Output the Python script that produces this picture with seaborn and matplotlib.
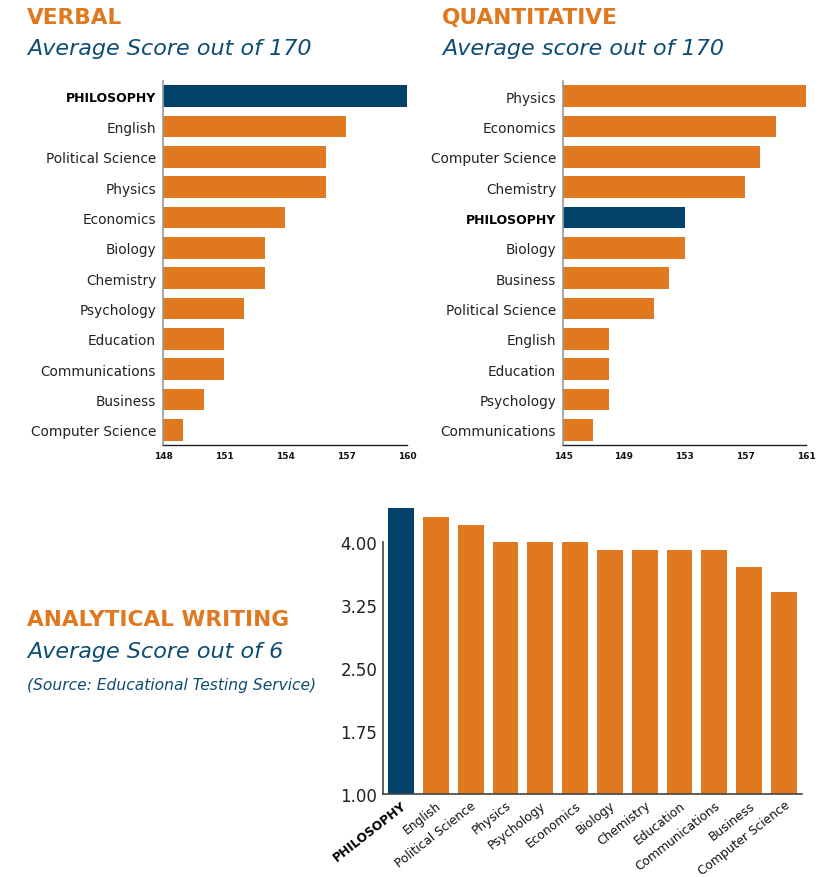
import matplotlib
matplotlib.use("Agg")
import matplotlib.pyplot as plt
import seaborn as sns
import pandas as pd
from matplotlib.ticker import FixedLocator

sns.set_theme(style="white")
plt.rcParams['font.family'] = ['DejaVu Sans']

ORANGE = "#DF781E"
BLUE = "#02426B"
TITLE_BLUE = "#0E4C72"

verbal_cats = ["PHILOSOPHY", "English", "Political Science", "Physics", "Economics", "Biology",
               "Chemistry", "Psychology", "Education", "Communications", "Business", "Computer Science"]
verbal_vals = [160, 157, 156, 156, 154, 153, 153, 152, 151, 151, 150, 149]
verbal_ticks = [148, 151, 154, 157, 160]

quant_cats = ["Physics", "Economics", "Computer Science", "Chemistry", "PHILOSOPHY", "Biology",
              "Business", "Political Science", "English", "Education", "Psychology", "Communications"]
quant_vals = [161, 159, 158, 157, 153, 153, 152, 151, 148, 148, 148, 147]
quant_ticks = [145, 149, 153, 157, 161]

aw_cats = ["PHILOSOPHY", "English", "Political Science", "Physics", "Psychology", "Economics",
           "Biology", "Chemistry", "Education", "Communications", "Business", "Computer Science"]
aw_vals = [4.4, 4.3, 4.2, 4.0, 4.0, 4.0, 3.9, 3.9, 3.9, 3.9, 3.7, 3.4]
aw_ticks = [1.00, 1.75, 2.50, 3.25, 4.00]

fig = plt.figure(figsize=(8.28, 8.78), dpi=100)

def pal(cats):
    return {c: (BLUE if c == "PHILOSOPHY" else ORANGE) for c in cats}

def hbar(ax, cats, vals, ticks):
    df = pd.DataFrame({"cat": cats, "val": vals})
    sns.barplot(data=df, y="cat", x="val", hue="cat", palette=pal(cats), orient="h",
                width=0.72, saturation=1, legend=False, ax=ax, order=cats, linewidth=0)
    ax.set_xlim(ticks[0], ticks[-1])
    ax.set_ylim(len(cats) - 0.5, -0.5)
    ax.set_xticks(ticks)
    ax.set_xticklabels([str(t) for t in ticks], fontsize=6.5, fontweight="bold", color="#111111")
    ax.set_xlabel("")
    ax.set_ylabel("")
    for s in ["top", "right"]:
        ax.spines[s].set_visible(False)
    ax.spines["left"].set_color("#999999")
    ax.spines["left"].set_linewidth(1.2)
    ax.spines["bottom"].set_color("#222222")
    ax.spines["bottom"].set_linewidth(1.0)
    ax.tick_params(axis="x", direction="inout", length=7, width=1, color="#444444", pad=1)
    ax.tick_params(axis="y", length=0, pad=5, labelsize=9.8, labelcolor="#222222")
    for lbl in ax.get_yticklabels():
        if lbl.get_text() == "PHILOSOPHY":
            lbl.set_fontweight("bold")
            lbl.set_fontsize(9)
            lbl.set_color("#000000")

ax1 = fig.add_axes([163/828, 1 - 446/878, 244/828, 364/878])
hbar(ax1, verbal_cats, verbal_vals, verbal_ticks)
ax2 = fig.add_axes([563/828, 1 - 446/878, 243/828, 364/878])
hbar(ax2, quant_cats, quant_vals, quant_ticks)

# Bottom chart
ax3 = fig.add_axes([383/828, 1 - 795/878, 419/828, 290/878])
df3 = pd.DataFrame({"cat": aw_cats, "val": aw_vals})
sns.barplot(data=df3, x="cat", y="val", hue="cat", palette=pal(aw_cats), width=0.74,
            saturation=1, legend=False, ax=ax3, order=aw_cats, linewidth=0)
ax3.set_ylim(1.0, 4.45)
ax3.set_xlim(-0.52, len(aw_cats) - 0.48)
ax3.set_yticks(aw_ticks)
ax3.set_yticklabels([f"{t:.2f}" for t in aw_ticks], fontsize=12, color="#222222")
ax3.set_xlabel("")
ax3.set_ylabel("")
for s in ["top", "right"]:
    ax3.spines[s].set_visible(False)
ax3.spines["left"].set_bounds(1.0, 4.0)
for s in ["left", "bottom"]:
    ax3.spines[s].set_color("#444444")
    ax3.spines[s].set_linewidth(1.2)
ax3.tick_params(axis="y", direction="in", length=4, width=1, color="#444444", pad=4)
ax3.tick_params(axis="x", which="major", length=0, pad=3)
ax3.xaxis.set_minor_locator(FixedLocator([i - 0.5 for i in range(len(aw_cats) + 1)]))
ax3.tick_params(axis="x", which="minor", direction="in", length=5, width=1, color="#444444")
ax3.set_xticks(range(len(aw_cats)))
ax3.set_xticklabels(aw_cats, rotation=38, ha="right", rotation_mode="anchor", fontsize=8.8, color="#111111")
for lbl in ax3.get_xticklabels():
    if lbl.get_text() == "PHILOSOPHY":
        lbl.set_fontweight("bold")
        lbl.set_color("#000000")

# Titles
fig.text(27/828, 1 - 18/878, "VERBAL", color=ORANGE, fontsize=15.6, fontweight="bold", va="center", ha="left")
fig.text(27/828, 1 - 49/878, "Average Score out of 170", color=TITLE_BLUE, fontsize=16, style="italic", va="center", ha="left")
fig.text(442/828, 1 - 18/878, "QUANTITATIVE", color=ORANGE, fontsize=15.6, fontweight="bold", va="center", ha="left")
fig.text(442/828, 1 - 49/878, "Average score out of 170", color=TITLE_BLUE, fontsize=16, style="italic", va="center", ha="left")
fig.text(27/828, 1 - 620/878, "ANALYTICAL WRITING", color=ORANGE, fontsize=15.6, fontweight="bold", va="center", ha="left")
fig.text(27/828, 1 - 652/878, "Average Score out of 6", color=TITLE_BLUE, fontsize=16, style="italic", va="center", ha="left")
fig.text(27/828, 1 - 686/878, "(Source: Educational Testing Service)", color=TITLE_BLUE, fontsize=11.2, style="italic", va="center", ha="left")

fig.savefig("out.png", dpi=100)
